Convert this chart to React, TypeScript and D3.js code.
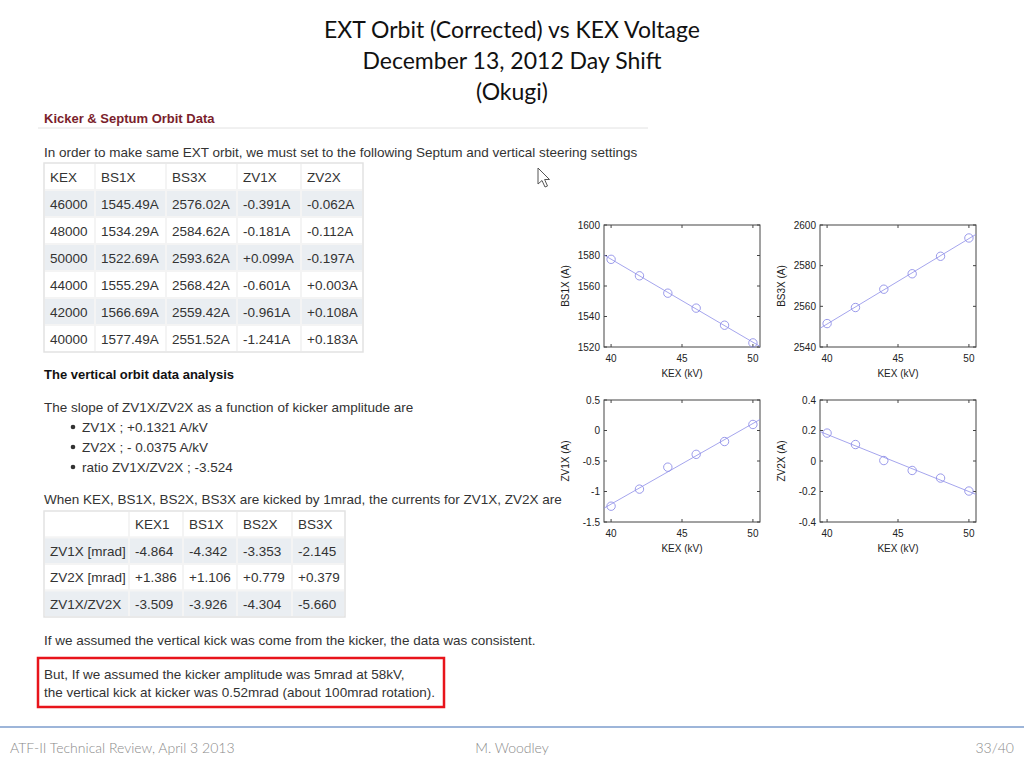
import * as d3 from "d3"

// Orbit table (KEX in V, currents in A)
const kex = [46000, 48000, 50000, 44000, 42000, 40000]
const bs1x = [1545.49, 1534.29, 1522.69, 1555.29, 1566.69, 1577.49]
const bs3x = [2576.02, 2584.62, 2593.62, 2568.42, 2559.42, 2551.52]
const zv1x = [-0.391, -0.181, 0.099, -0.601, -0.961, -1.241]
const zv2x = [-0.062, -0.112, -0.197, 0.003, 0.108, 0.183]
const orbitHeaders = ["KEX", "BS1X", "BS3X", "ZV1X", "ZV2X"]

// fitted lines, read at the plot edges
const fitX = [39.5, 50.5]
const fitBS1X = [1580.3, 1520.4]
const fitBS3X = [2549.2, 2595.4]
const fitZV1X = [-1.273, 0.181]
const fitZV2X = [0.193, -0.219]

const xTicks = [40, 45, 50]
const bs1Ticks = [1520, 1540, 1560, 1580, 1600]
const bs3Ticks = [2540, 2560, 2580, 2600]
const zv1Ticks = [-1.5, -1, -0.5, 0, 0.5]
const zv2Ticks = [-0.4, -0.2, 0, 0.2, 0.4]

// 1 mrad kick table
const kickCols = ["KEX1", "BS1X", "BS2X", "BS3X"]
const kickRows = ["ZV1X [mrad]", "ZV2X [mrad]", "ZV1X/ZV2X"]
const zv1Kick = [-4.864, -4.342, -3.353, -2.145]
const zv2Kick = [1.386, 1.106, 0.779, 0.379]
const ratioKick = [-3.509, -3.926, -4.304, -5.66]

const bullets = ["ZV1X ; +0.1321 A/kV", "ZV2X ; - 0.0375 A/kV", "ratio ZV1X/ZV2X ; -3.524"]

const SHOT = "'Liberation Sans', Arial, sans-serif"
const SLIDE = "Lato, 'Open Sans', sans-serif"
const PLOT = "'Liberation Sans', Arial, sans-serif"
const ROW_FILL = "#eaeef2"
const TXT = "#333"

const signed = (v: number, unit = "") => (v > 0 ? "+" : "") + v.toFixed(3) + unit

interface PlotProps {
  left: number
  top: number
  yDomain: [number, number]
  yTicks: number[]
  ys: number[]
  fit: number[]
  yLabel: string
}

function MiniPlot({ left, top, yDomain, yTicks, ys, fit, yLabel }: PlotProps) {
  const w = 156
  const h = 122
  const x = d3.scaleLinear().domain([39.5, 50.5]).range([left, left + w])
  const y = d3.scaleLinear().domain(yDomain).range([top + h, top])
  const line = d3
    .line<number>()
    .x((_, i) => x(fitX[i]))
    .y((d) => y(d))
  const color = "#8e8ee8"
  return (
    <g fontFamily={PLOT} fontSize={10} fill="#222">
      <rect x={left} y={top} width={w} height={h} fill="white" stroke="#444" strokeWidth={1} />
      {xTicks.map((t) => (
        <g key={"x" + t}>
          <line x1={x(t)} x2={x(t)} y1={top + h} y2={top + h - 3} stroke="#444" />
          <line x1={x(t)} x2={x(t)} y1={top} y2={top + 3} stroke="#444" />
          <text x={x(t)} y={top + h + 15} textAnchor="middle">
            {t}
          </text>
        </g>
      ))}
      {yTicks.map((t) => (
        <g key={"y" + t}>
          <line x1={left} x2={left + 3} y1={y(t)} y2={y(t)} stroke="#444" />
          <line x1={left + w} x2={left + w - 3} y1={y(t)} y2={y(t)} stroke="#444" />
          <text x={left - 4} y={y(t) + 3.5} textAnchor="end">
            {String(t)}
          </text>
        </g>
      ))}
      <path d={line(fit) || ""} fill="none" stroke={color} strokeWidth={0.8} />
      {ys.map((v, i) => (
        <circle key={i} cx={x(kex[i] / 1000)} cy={y(v)} r={4.2} fill="none" stroke={color} strokeWidth={0.9} />
      ))}
      <text x={left + w / 2} y={top + h + 30} textAnchor="middle">
        KEX (kV)
      </text>
      <text transform={`translate(${left - 35},${top + h / 2}) rotate(-90)`} textAnchor="middle">
        {yLabel}
      </text>
    </g>
  )
}

export default function App() {
  const orbitColX = [44, 95, 166, 237, 301, 363]
  const orbitTop = 163
  const rowH = 27
  const orbitCells = kex.map((k, i) => [
    String(k),
    bs1x[i].toFixed(2) + "A",
    bs3x[i].toFixed(2) + "A",
    signed(zv1x[i], "A"),
    signed(zv2x[i], "A"),
  ])

  const kickColX = [44, 129, 183, 237, 292, 345]
  const kickTop = 511
  const kickH = 26.5
  const kickCells = [
    zv1Kick.map((v) => v.toFixed(3)),
    zv2Kick.map((v) => signed(v)),
    ratioKick.map((v) => v.toFixed(3)),
  ]

  return (
    <div style={{ position: "absolute", left: 0, top: 0 }}>
      <svg width={1024} height={768} style={{ display: "block", background: "white" }}>
        {/* slide title */}
        <g fontFamily={SLIDE} fontSize={23} fill="#111" textAnchor="middle">
          <text x={512} y={38}>EXT Orbit (Corrected) vs KEX Voltage</text>
          <text x={512} y={69}>December 13, 2012 Day Shift</text>
          <text x={512} y={100}>(Okugi)</text>
        </g>

        {/* screenshot: orbit data */}
        <g fontFamily={SHOT} fontSize={13.5} fill={TXT}>
          <text x={44} y={123} fontWeight="bold" fontSize={13} fill="#7a1e2c">
            Kicker &amp; Septum Orbit Data
          </text>
          <line x1={38} x2={648} y1={128} y2={128} stroke="#e2e2e2" />
          <text x={44} y={157}>
            In order to make same EXT orbit, we must set to the following Septum and vertical steering settings
          </text>

          {[orbitHeaders, ...orbitCells].map((row, r) =>
            row.map((cell, c) => (
              <g key={`o${r}-${c}`}>
                <rect
                  x={orbitColX[c]}
                  y={orbitTop + r * rowH}
                  width={orbitColX[c + 1] - orbitColX[c]}
                  height={rowH}
                  fill={r % 2 === 1 ? ROW_FILL : "white"}
                  stroke="#f4f4f4"
                  strokeWidth={2}
                />
                <text x={orbitColX[c] + 6} y={orbitTop + r * rowH + 19}>
                  {cell}
                </text>
              </g>
            ))
          )}
          <rect x={44} y={orbitTop} width={319} height={rowH * 7} fill="none" stroke="#dedede" />

          <text x={44} y={379} fontWeight="bold" fontSize={13} fill="#111">
            The vertical orbit data analysis
          </text>
          <text x={44} y={412}>The slope of ZV1X/ZV2X as a function of kicker amplitude are</text>
          {bullets.map((b, i) => (
            <g key={b}>
              <circle cx={73} cy={427 + i * 20} r={2.3} fill={TXT} />
              <text x={82} y={432 + i * 20}>
                {b}
              </text>
            </g>
          ))}
          <text x={44} y={504}>
            When KEX, BS1X, BS2X, BS3X are kicked by 1mrad, the currents for ZV1X, ZV2X are
          </text>

          {[["", ...kickCols], ...kickRows.map((lab, i) => [lab, ...kickCells[i]])].map((row, r) =>
            row.map((cell, c) => (
              <g key={`k${r}-${c}`}>
                <rect
                  x={kickColX[c]}
                  y={kickTop + r * kickH}
                  width={kickColX[c + 1] - kickColX[c]}
                  height={kickH}
                  fill={r % 2 === 1 ? ROW_FILL : "white"}
                  stroke="#f4f4f4"
                  strokeWidth={2}
                />
                <text x={kickColX[c] + 6} y={kickTop + r * kickH + 18}>
                  {cell}
                </text>
              </g>
            ))
          )}
          <rect x={44} y={kickTop} width={301} height={kickH * 4} fill="none" stroke="#dedede" />

          <text x={44} y={645}>
            If we assumed the vertical kick was come from the kicker, the data was consistent.
          </text>
          <rect x={38} y={658} width={406} height={49} fill="none" stroke="#e8141b" strokeWidth={2.5} />
          <text x={44} y={679}>But, If we assumed the kicker amplitude was 5mrad at 58kV,</text>
          <text x={44} y={697}>the vertical kick at kicker was 0.52mrad (about 100mrad rotation).</text>
        </g>

        {/* mouse pointer in the screenshot */}
        <path
          d="M538,168 L538,184 L542,180.5 L545,187 L547.5,186 L544.6,179.5 L549.5,179.5 Z"
          fill="white"
          stroke="#555"
          strokeWidth={1}
        />

        {/* plots */}
        <MiniPlot left={604} top={225} yDomain={[1520, 1600]} yTicks={bs1Ticks} ys={bs1x} fit={fitBS1X} yLabel="BS1X (A)" />
        <MiniPlot left={820} top={225} yDomain={[2540, 2600]} yTicks={bs3Ticks} ys={bs3x} fit={fitBS3X} yLabel="BS3X (A)" />
        <MiniPlot left={604} top={400} yDomain={[-1.5, 0.5]} yTicks={zv1Ticks} ys={zv1x} fit={fitZV1X} yLabel="ZV1X (A)" />
        <MiniPlot left={820} top={400} yDomain={[-0.4, 0.4]} yTicks={zv2Ticks} ys={zv2x} fit={fitZV2X} yLabel="ZV2X (A)" />

        {/* footer */}
        <line x1={0} x2={1024} y1={727} y2={727} stroke="#7d9ccc" strokeWidth={1.5} />
        <g fontFamily={SLIDE} fontSize={14} fill="#8a8a8a" fontWeight={300}>
          <text x={10} y={753}>ATF-II Technical Review, April 3 2013</text>
          <text x={512} y={753} textAnchor="middle">
            M. Woodley
          </text>
          <text x={1014} y={753} textAnchor="end">
            33/40
          </text>
        </g>
      </svg>
    </div>
  )
}
